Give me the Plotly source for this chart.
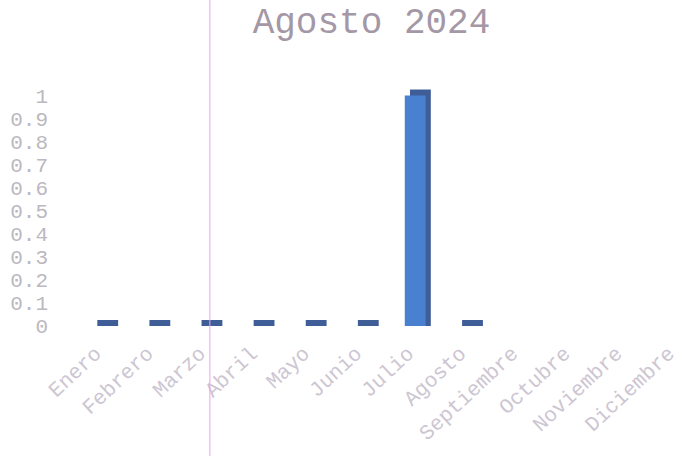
import plotly.graph_objects as go

months = ["Enero", "Febrero", "Marzo", "Abril", "Mayo", "Junio", "Julio",
          "Agosto", "Septiembre", "Octubre", "Noviembre", "Diciembre"]
values = [0, 0, 0, 0, 0, 0, 1, 0, None, None, None, None]
y_ticks = [0, 0.1, 0.2, 0.3, 0.4, 0.5, 0.6, 0.7, 0.8, 0.9, 1]
title_text = "Agosto 2024"
marker_month = "Marzo"

depth = 0.026
depth_vals = [None if v is None else v + depth for v in values]

FONT = "Liberation Mono, Courier New, monospace"

fig = go.Figure()
# depth / side face
fig.add_trace(go.Bar(
    x=months, y=depth_vals, offset=0.04, width=0.40,
    marker=dict(color="#3f5e98", line=dict(width=0)),
    cliponaxis=False, hoverinfo="skip", showlegend=False,
))
# front face
fig.add_trace(go.Bar(
    x=months, y=values, offset=-0.06, width=0.40,
    marker=dict(color="#4a80d0", line=dict(width=0)),
    cliponaxis=False, showlegend=False,
))

fig.add_shape(type="line", xref="x", yref="paper",
              x0=marker_month, x1=marker_month, x0shift=0.2, x1shift=0.2,
              y0=-2, y1=3,
              line=dict(color="#f0a0f0", width=1))

fig.update_layout(
    width=682, height=456,
    margin=dict(l=65, r=0, t=84, b=130),
    paper_bgcolor="white", plot_bgcolor="white",
    barmode="overlay",
    title=dict(text=title_text, x=0.5447, xref="container", xanchor="center",
               y=0.955, yanchor="middle",
               font=dict(family=FONT, size=36, color="#a497a6")),
    xaxis=dict(range=[-0.58, 11.26], tickangle=-43, showgrid=False,
               showline=False, zeroline=False, ticks="", automargin=False,
               ticklabelstandoff=10,
               tickfont=dict(family=FONT, size=21, color="#cdc6d2")),
    yaxis=dict(range=[0, 1.05], tickvals=y_ticks, showgrid=False,
               showline=False, zeroline=False, ticks="", ticklabelstandoff=16,
               automargin=False,
               tickfont=dict(family=FONT, size=21, color="#bcb8c0")),
)

fig.write_html("out.html",
               config={"displayModeBar": False},
               post_script="document.body.style.margin='0';document.body.style.overflow='hidden';")
